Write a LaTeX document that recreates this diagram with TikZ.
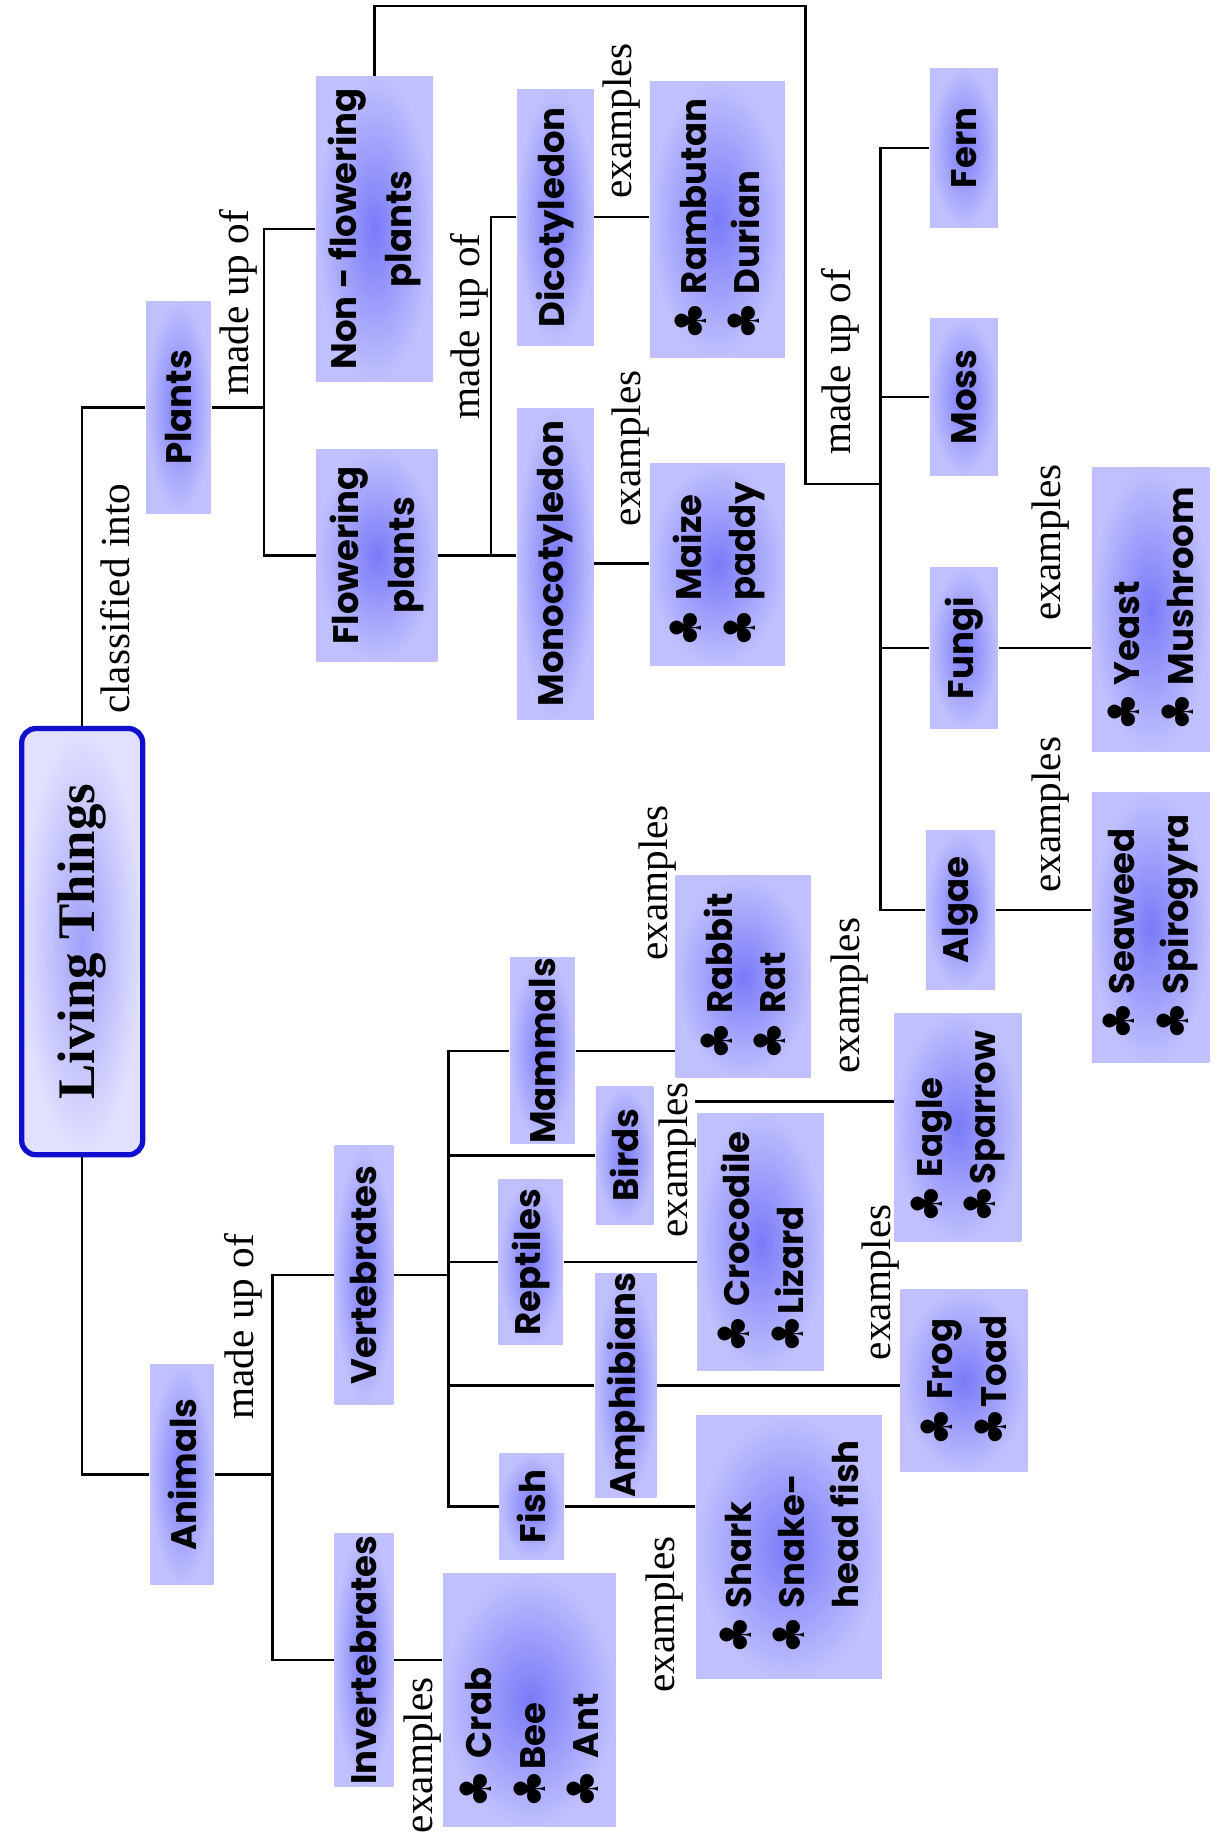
\documentclass[tikz,border=0pt]{standalone}
\usepackage{fontspec}
\setmainfont{Liberation Serif}
\newfontfamily\boxfont{Poppins}
\newfontfamily\symfont{DejaVu Sans}
\definecolor{boxin}{RGB}{122,122,248}
\definecolor{boxout}{RGB}{192,192,254}
\definecolor{ltin}{RGB}{160,160,250}
\definecolor{ltout}{RGB}{225,225,255}
\definecolor{ltline}{RGB}{15,15,205}
\tikzset{
    ltbox/.style = {rectangle, rotate=90, rounded corners=1.2mm, draw=ltline, line width=0.45mm, inner color=ltin, outer color=ltout, minimum width=36.3mm, minimum height=10.3mm, font=\bfseries\fontsize{12.8}{15}\selectfont},
    cbox/.style = {rectangle, rotate=90, inner color=boxin, outer color=boxout, inner sep=0pt, align=center, font=\boxfont\bfseries\fontsize{8.6}{13.5}\selectfont},
    boxsize/.style 2 args = {minimum width=#1mm, minimum height=#2mm},
    exbox/.style 2 args = {rectangle, rotate=90, inner color=boxin, outer color=boxout, inner xsep=1.5mm, inner ysep=0pt, align=left, minimum width=#1mm, minimum height=#2mm, font=\boxfont\bfseries\fontsize{8.6}{13}\selectfont},
    lbl/.style = {rotate=90, inner sep=0pt, font=\fontsize{10}{12}\selectfont},
    edgek/.style = {semithick, black},
}
\newcommand{\clb}{{\symfont\bfseries\fontsize{10.5}{10}\selectfont ♣}}

\begin{document}
\begin{tikzpicture}[x=0.1mm, y=-0.1mm]
\useasboundingbox (0,0) rectangle (1037,1568);
\fill[white] (0,0) rectangle (1037,1568);
\node[ltbox] at (70,802) (lt) {Living Things};
% plants side
\node[cbox, boxsize={18}{5.5}] at (152,347) (plants) {Plants};
\node[cbox, boxsize={26}{10}] at (319,195) (nonfl) {Non - flowering\\plants};
\node[cbox, boxsize={18}{10.3}] at (321,473) (flow) {Flowering\\plants};
\node[cbox, boxsize={21.8}{6.5}] at (473,185) (dico) {Dicotyledon};
\node[cbox, boxsize={26.5}{6.5}] at (473,480) (mono) {Monocotyledon};
\node[exbox={23}{11.5}] at (611,187) (ramb) {\clb\ Rambutan\\\clb\ Durian};
\node[exbox={17.2}{11.5}] at (611,481) (maize) {\clb\ Maize\\\clb\ paddy};
\node[cbox, boxsize={13.6}{5.8}] at (821,126) (fern) {Fern};
\node[cbox, boxsize={13.4}{5.8}] at (821,338) (moss) {Moss};
\node[cbox, boxsize={13.7}{5.8}] at (821,552) (fungi) {Fungi};
\node[cbox, boxsize={13.5}{5.9}] at (818,775) (algae) {Algae};
\node[exbox={24.2}{10}] at (980,519) (yeast) {\clb\ Yeast\\\clb\ Mushroom};
\node[exbox={23}{10}] at (980,790) (seaweed) {\clb\ Seaweed\\\clb\ Spirogyra};
% animals side
\node[cbox, boxsize={18.7}{5.4}] at (155,1256) (animals) {Animals};
\node[cbox, boxsize={22}{5}] at (310,1086) (vert) {Vertebrates};
\node[cbox, boxsize={21.5}{5}] at (310,1414) (invert) {Invertebrates};
\node[exbox={21.5}{14.7}, text width=18.5mm] at (451,1448) (crab) {\clb\ Crab\\\clb Bee\\\clb\ Ant};
\node[cbox, boxsize={15.5}{5.5}] at (462,895) (mammals) {Mammals};
\node[cbox, boxsize={11.8}{4.9}] at (532,984) (birds) {Birds};
\node[cbox, boxsize={14}{5.5}] at (452,1075) (reptiles) {Reptiles};
\node[cbox, boxsize={19}{5.2}] at (533,1180) (amphib) {Amphibians};
\node[cbox, boxsize={9}{5.5}] at (453,1283) (fish) {Fish};
\node[exbox={16}{11.5}] at (633,832) (rabbit) {\clb\ Rabbit\\\clb\ Rat};
\node[exbox={18}{10.8}] at (816,960) (eagle) {\clb\ Eagle\\\clb Sparrow};
\node[exbox={21.8}{10.8}] at (648,1058) (croc) {\clb\ Crocodile\\\clb Lizard};
\node[exbox={15.5}{10.8}] at (821,1176) (frog) {\clb\ Frog\\\clb Toad};
\node[exbox={22.4}{15.8}] at (672,1318) (shark) {\clb\ Shark\\\clb\ Snake-\\\hphantom{\clb\ }head fish};
% labels
\node[lbl] at (98,510) (cls) {classified into};
\node[lbl] at (203,258) (mup1) {made up of};
\node[lbl] at (400,278) (mup2) {made up of};
\node[lbl] at (716,308) (mup3) {made up of};
\node[lbl] at (207,1130) (mup4) {made up of};
\node[lbl] at (529,103) (ex1) {examples};
\node[lbl] at (537,382) (ex2) {examples};
\node[lbl] at (895,462) (ex3) {examples};
\node[lbl] at (895,694) (ex4) {examples};
\node[lbl] at (360,1495) (ex5) {examples};
\node[lbl] at (560,752) (ex6) {examples};
\node[lbl] at (724,848) (ex7) {examples};
\node[lbl] at (577,988) (ex8) {examples};
\node[lbl] at (750,1092) (ex9) {examples};
\node[lbl] at (566,1375) (ex10) {examples};
%
\draw[edgek] (plants) -| (lt);
\draw[edgek] (animals) -| (lt);
\coordinate (pbr) at (225,347);
\draw[edgek] (plants) -- (pbr);
\draw[edgek] (nonfl) -| (pbr) |- (flow);
\coordinate (fbr) at (418,473);
\draw[edgek] (flow) -- (flow -| mono.north);
\draw[edgek] (dico) -| (fbr);
\draw[edgek] (dico) -- (dico -| ramb.north);
\draw[edgek] (mono) -- (mono -| maize.north);
\coordinate (nftop) at (686,5);
\coordinate (nfbr) at (750,412);
\draw[edgek] (nonfl) |- (nftop) |- (nfbr);
\draw[edgek] (fern) -| (nfbr) |- (algae);
\draw[edgek] (moss) -- (nfbr |- moss);
\draw[edgek] (fungi) -- (nfbr |- fungi);
\draw[edgek] (fungi) -- (fungi -| yeast.north);
\draw[edgek] (algae) -- (algae -| seaweed.north);
%
\coordinate (abr) at (232,1256);
\draw[edgek] (animals) -- (abr);
\draw[edgek] (vert) -| (abr) |- (invert);
\draw[edgek] (invert) -- (invert -| crab.north);
\coordinate (vbr) at (382,1086);
\draw[edgek] (vert) -- (vbr);
\draw[edgek] (mammals) -| (vbr) |- (fish);
\draw[edgek] (birds) -- (vbr |- birds);
\draw[edgek] (reptiles) -- (vbr |- reptiles);
\draw[edgek] (amphib) -- (vbr |- amphib);
\draw[edgek] (mammals) -- (mammals -| rabbit.north);
\coordinate (bstart) at (592,938);
\draw[edgek] (bstart) -- (bstart -| eagle.north);
\draw[edgek] (reptiles) -- (reptiles -| croc.north);
\draw[edgek] (amphib) -- (amphib -| frog.north);
\draw[edgek] (fish) -- (fish -| shark.north);
\end{tikzpicture}
\end{document}
